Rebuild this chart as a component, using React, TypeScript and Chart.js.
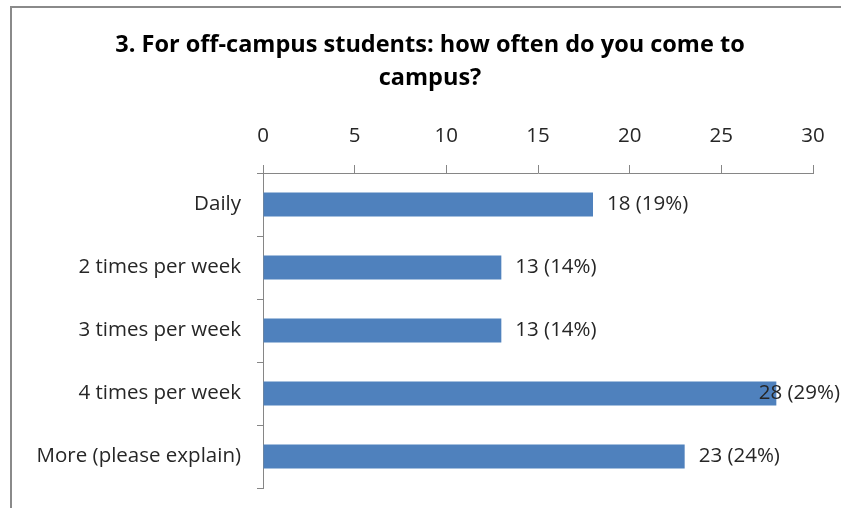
import React, { useEffect, useRef } from "react";
import { Chart, registerables } from "chart.js";

Chart.register(...registerables);

const TITLE_LINES = ["3. For off-campus students: how often do you come to", "campus?"];
const CATEGORIES = ["Daily", "2 times per week", "3 times per week", "4 times per week", "More (please explain)"];
const COUNTS = [18, 13, 13, 28, 23];
const PERCENTS = [19, 14, 14, 29, 24];
const X_MIN = 0;
const X_MAX = 30;
const X_STEP = 5;

const FONT = "'Open Sans', Lato, sans-serif";
const TEXT_COLOR = "#262626";
const AXIS_COLOR = "#868686";
const BAR_COLOR = "#4F81BD";

const W = 841;
const H = 508;

const framePlugin = {
  id: "frame",
  beforeDraw(chart: any) {
    const ctx = chart.ctx;
    ctx.save();
    ctx.fillStyle = "#ffffff";
    ctx.fillRect(0, 0, chart.width, chart.height);
    ctx.strokeStyle = "#8a8a8a";
    ctx.lineWidth = 2;
    ctx.beginPath();
    ctx.moveTo(11, chart.height);
    ctx.lineTo(11, 7);
    ctx.lineTo(chart.width, 7);
    ctx.stroke();
    ctx.restore();
  },
};

const titlePlugin = {
  id: "customTitle",
  afterDraw(chart: any) {
    const ctx = chart.ctx;
    ctx.save();
    ctx.font = `bold 23.5px ${FONT}`;
    ctx.fillStyle = "#000000";
    ctx.textAlign = "center";
    ctx.textBaseline = "middle";
    TITLE_LINES.forEach((line, i) => {
      ctx.fillText(line, 430, 45 + i * 33);
    });
    ctx.restore();
  },
};

const labelPlugin = {
  id: "valueLabels",
  afterDatasetsDraw(chart: any) {
    const ctx = chart.ctx;
    const meta = chart.getDatasetMeta(0);
    ctx.save();
    ctx.font = `20.5px ${FONT}`;
    ctx.fillStyle = TEXT_COLOR;
    ctx.textAlign = "left";
    ctx.textBaseline = "middle";
    const rightLimit = chart.width - 1;
    meta.data.forEach((bar: any, i: number) => {
      const text = `${COUNTS[i]} (${PERCENTS[i]}%)`;
      const tw = ctx.measureText(text).width;
      const x = Math.min(bar.x + 14, rightLimit - tw);
      ctx.fillText(text, x, bar.y);
    });
    ctx.restore();
  },
};

export default function App() {
  const ref = useRef<HTMLCanvasElement | null>(null);

  useEffect(() => {
    if (!ref.current) return;
    const chart = new Chart(ref.current, {
      type: "bar",
      data: {
        labels: CATEGORIES,
        datasets: [
          {
            data: COUNTS,
            backgroundColor: BAR_COLOR,
            borderWidth: 0,
            barPercentage: 0.38,
            categoryPercentage: 1,
          },
        ],
      },
      options: {
        indexAxis: "y",
        responsive: false,
        animation: false,
        devicePixelRatio: 1,
        layout: { padding: { left: 0, right: 28, top: 104, bottom: 20 } },
        plugins: {
          legend: { display: false },
          tooltip: { enabled: false },
          title: { display: false },
        },
        scales: {
          x: {
            type: "linear",
            position: "top",
            min: X_MIN,
            max: X_MAX,
            ticks: {
              stepSize: X_STEP,
              color: TEXT_COLOR,
              font: { family: FONT, size: 20.5 },
              padding: 17,
            },
            grid: { drawOnChartArea: false, tickLength: 8, color: AXIS_COLOR },
            border: { color: AXIS_COLOR },
            afterFit: (scale: any) => {
              scale.height = 69;
              scale.paddingLeft = 0;
              scale.paddingRight = 0;
            },
          },
          y: {
            type: "category",
            ticks: {
              color: TEXT_COLOR,
              font: { family: FONT, size: 20.5 },
              padding: 16,
            },
            grid: { drawOnChartArea: false, tickLength: 6, color: AXIS_COLOR, offset: true },
            border: { color: AXIS_COLOR },
            afterFit: (scale: any) => {
              scale.width = 263;
              scale.paddingTop = 0;
              scale.paddingBottom = 0;
            },
          },
        },
      },
      plugins: [framePlugin, labelPlugin, titlePlugin],
    } as any);
    return () => chart.destroy();
  }, []);

  return (
    <div style={{ position: "absolute", left: 0, top: 0, width: W, height: H, background: "#fff" }}>
      <canvas ref={ref} width={W} height={H} style={{ display: "block", width: W, height: H }} />
    </div>
  );
}
